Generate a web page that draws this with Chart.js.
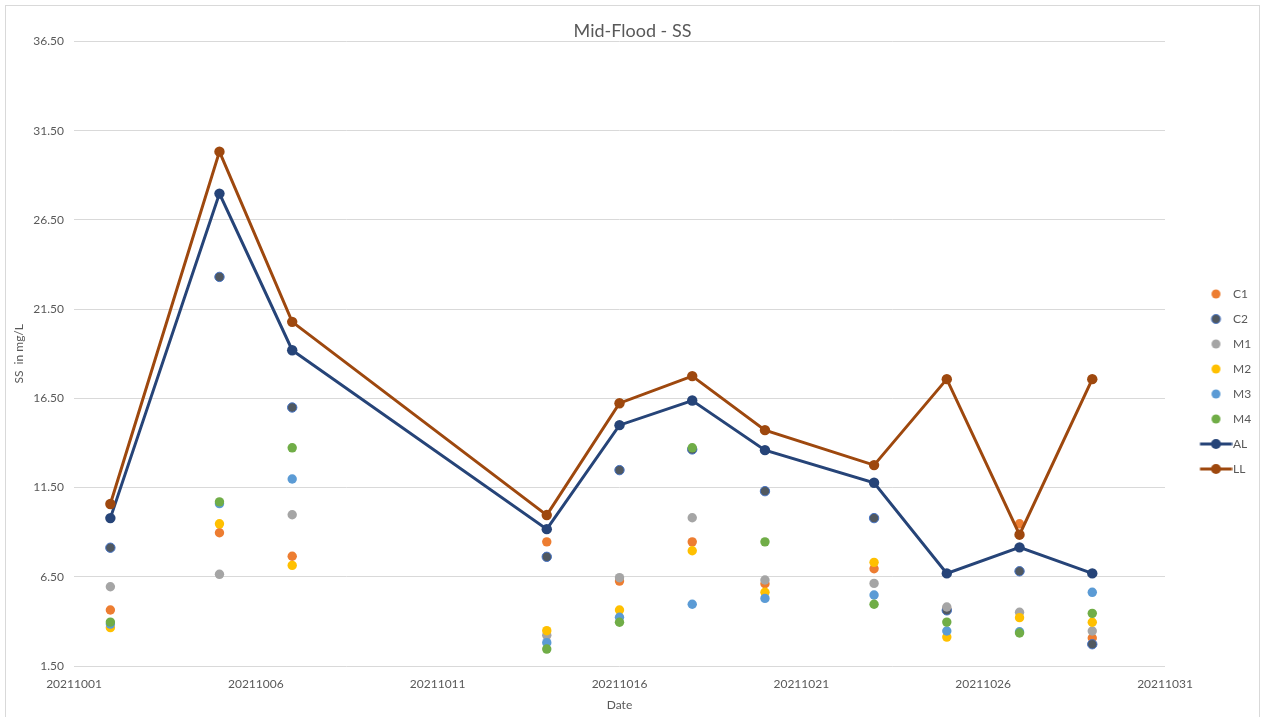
<!DOCTYPE html>
<html>
<head>
<meta charset="utf-8">
<script src="https://cdn.jsdelivr.net/npm/chart.js@4"></script>
<style>
  body { margin: 0; background: #fff; }
  #frame { position: absolute; left: 5px; top: 5px; width: 1253px; height: 711px; border: 1px solid #d9d9d9; }
  #chart { position: absolute; left: 0; top: 0; }
</style>
</head>
<body>
<div id="frame"></div>
<canvas id="chart" width="1261" height="717"></canvas>
<script>
// sample dates (yyyymmdd)
const dates = [20211002, 20211005, 20211007, 20211014, 20211016, 20211018, 20211020, 20211023, 20211025, 20211027, 20211029];

const c1 = [4.64, 8.97, 7.65, 8.46, 6.26, 8.46, 6.11, 6.95, 4.70, 9.47, 3.07];
const c2 = [8.13, 23.31, 15.99, 7.62, 12.48, 13.64, 11.30, 9.79, 4.62, 6.81, 2.72];
const m1 = [5.94, 6.64, 9.98, 3.22, 6.45, 9.81, 6.32, 6.13, 4.81, 4.51, 3.46];
const m2 = [3.65, 9.47, 7.14, 3.48, 4.64, 7.96, 5.63, 7.31, 3.12, 4.21, 3.95];
const m3 = [3.85, 10.60, 11.98, 2.81, 4.23, 4.96, 5.29, 5.48, 3.46, 3.42, 5.63];
const m4 = [3.96, 10.70, 13.73, 2.45, 3.95, 13.73, 8.46, 4.96, 3.96, 3.35, 4.45];
const al = [9.79, 27.98, 19.20, 9.17, 15.00, 16.38, 13.60, 11.77, 6.69, 8.15, 6.69];
const ll = [10.58, 30.33, 20.79, 9.96, 16.23, 17.75, 14.72, 12.76, 17.58, 8.86, 17.58];

const xTicks = { min: 20211001, max: 20211031, step: 5 };
const yTicks = { min: 1.5, max: 36.5, step: 5 };

const grey = '#595959';
const font = 'Lato';

const pts = vals => dates.map((d, i) => ({ x: d, y: vals[i] }));

// legend icons: dot, or line with dot
function icon(color, line, border) {
  const c = document.createElement('canvas');
  c.width = 60; c.height = 14;
  const g = c.getContext('2d');
  if (line) {
    g.strokeStyle = color; g.lineWidth = 3;
    g.beginPath(); g.moveTo(27.5, 7); g.lineTo(59.5, 7); g.stroke();
  }
  g.fillStyle = color;
  g.beginPath(); g.arc(43.5, 7, line ? 5 : 4.5, 0, Math.PI * 2); g.fill();
  if (border) { g.strokeStyle = border; g.lineWidth = 1; g.stroke(); }
  return c;
}

const dot = (label, vals, color, order, border) => ({
  label, data: pts(vals), order,
  backgroundColor: color, borderColor: border || color, borderWidth: border ? 1 : 0,
  pointRadius: 4.7, pointHoverRadius: 4.7, showLine: false,
  legendIcon: icon(color, false, border)
});
const lineSet = (label, vals, color, order) => ({
  label, data: pts(vals), order,
  backgroundColor: color, borderColor: color, borderWidth: 3,
  pointBorderWidth: 0, pointRadius: 5.2, pointHoverRadius: 5.2, showLine: true,
  legendIcon: icon(color, true)
});

const datasets = [
  dot('C1', c1, '#ED7D31', 8),
  dot('C2', c2, '#505860', 7, '#4472C4'),
  dot('M1', m1, '#A5A5A5', 6),
  dot('M2', m2, '#FFC000', 5),
  dot('M3', m3, '#5B9BD5', 4),
  dot('M4', m4, '#70AD47', 3),
  lineSet('AL', al, '#264478', 2),
  lineSet('LL', ll, '#9E480E', 1)
];

new Chart(document.getElementById('chart'), {
  type: 'scatter',
  data: { datasets },
  options: {
    responsive: false,
    animation: false,
    layout: { padding: { left: 4, right: 0, top: 0, bottom: 0 } },
    plugins: {
      tooltip: { enabled: false },
      title: {
        display: true, text: 'Mid-Flood - SS', color: grey,
        font: { family: font, size: 18, weight: 'normal' },
        padding: { top: 20, bottom: 0 }
      },
      legend: {
        position: 'right',
        maxWidth: 96,
        title: { display: true, text: ' ', font: { size: 12 }, padding: { top: 16, bottom: 15.6 } },
        labels: {
          usePointStyle: true, pointStyleWidth: 49, padding: 13,
          color: grey, font: { family: font, size: 12 },
          sort: (a, b) => a.datasetIndex - b.datasetIndex,
          generateLabels: chart => Chart.defaults.plugins.legend.labels.generateLabels(chart)
            .map(item => Object.assign(item, { pointStyle: chart.data.datasets[item.datasetIndex].legendIcon }))
        }
      }
    },
    scales: {
      x: {
        type: 'linear', min: xTicks.min, max: xTicks.max,
        afterFit: s => { s.height = 51; },
        grid: { display: false, drawTicks: false },
        border: { display: false },
        ticks: {
          stepSize: xTicks.step, autoSkip: false, maxRotation: 0, padding: 11,
          color: grey, font: { family: font, size: 12 },
          callback: v => String(v)
        },
        title: { display: true, text: 'Date', color: grey, font: { family: font, size: 12 }, padding: { top: 0, bottom: 5 } }
      },
      y: {
        min: yTicks.min, max: yTicks.max,
        afterFit: s => { s.width = 70; },
        grid: { color: '#d9d9d9', lineWidth: 1, drawTicks: false },
        border: { display: false },
        ticks: {
          stepSize: yTicks.step, padding: 10,
          color: grey, font: { family: font, size: 12 },
          callback: v => v.toFixed(2)
        },
        title: { display: true, text: 'SS  in mg/L', color: grey, font: { family: font, size: 12 }, padding: { top: 8, bottom: 0 } }
      }
    }
  }
});
</script>
</body>
</html>
